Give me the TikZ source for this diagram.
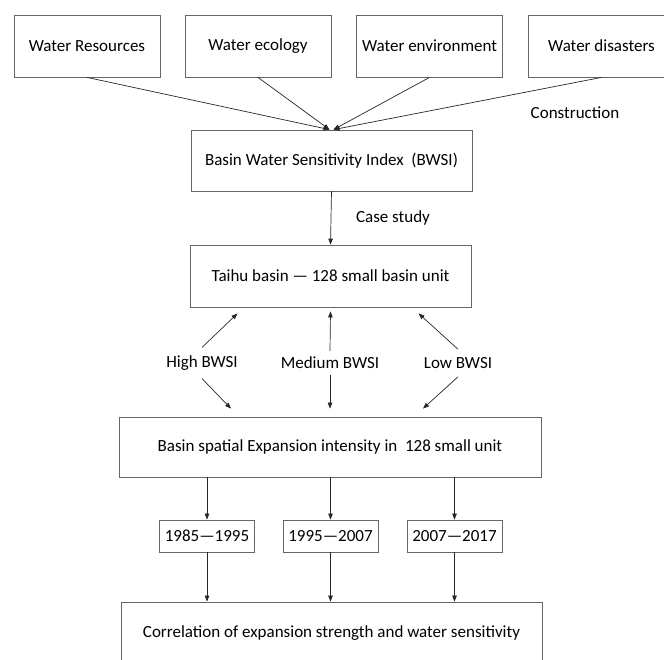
\documentclass[tikz,border=0pt]{standalone}
\usepackage{fontspec}
\setmainfont{Carlito}
\usetikzlibrary{arrows.meta,positioning}

\begin{document}
\begin{tikzpicture}[
  x=1pt,y=-1pt,
  font=\fontsize{17}{20}\selectfont,
  box/.style={draw=black!60,line width=0.8pt,minimum height=62pt,inner sep=0pt,align=center},
  topbox/.style={box,minimum width=146pt},
  yearbox/.style={box,minimum width=95pt,minimum height=32pt},
  lab/.style={inner sep=0pt},
  arrow/.style={-{Triangle[length=6pt,width=4.5pt]},draw=black!85,line width=0.7pt}
]
\useasboundingbox (0,0) rectangle (664,659);
% indicator boxes
\node[topbox] (res) at (87,46) {Water Resources};
\node[topbox] (eco) at (258,46) {Water ecology};
\node[topbox] (env) at (429.5,46) {Water environment};
\node[topbox] (dis) at (601.5,46) {Water disasters};
\node[lab] (constr) at (575,113) {Construction};
\node[box,minimum width=281pt,minimum height=61pt] (bwsi) at (331.5,160.5) {Basin Water Sensitivity Index~ (BWSI)};
\node[lab] (case) at (393,218) {Case study};
\node[box,minimum width=281pt] (taihu) at (330.5,276) {Taihu basin — 128 small basin unit};
\node[lab] (high) at (202,363) {High BWSI};
\node[lab] (med) at (330,363) {Medium BWSI};
\node[lab] (low) at (458,363) {Low BWSI};
\node[box,minimum width=422pt,minimum height=60pt] (basin) at (330,447) {Basin spatial Expansion intensity in~ 128 small unit};
% periods
\node[yearbox] (p1) at (207,536) {1985—1995};
\node[yearbox] (p2) at (330.5,536) {1995—2007};
\node[yearbox] (p3) at (454.5,536) {2007—2017};
\node[box,minimum width=421pt] (corr) at (331.5,633) {Correlation of expansion strength and water sensitivity};

\draw[arrow] (res.south) -- ([xshift=-2pt]bwsi.north);
\draw[arrow] (eco.south) -- ([xshift=-2pt]bwsi.north);
\draw[arrow] (env.south) -- ([xshift=2pt]bwsi.north);
\draw[arrow] (dis.south) -- ([xshift=2pt]bwsi.north);
\draw[arrow] (bwsi.south) -- (taihu.north);
% BWSI classes
\draw[arrow] ([yshift=8pt]high.north) -- ([xshift=-93pt,yshift=-6pt]taihu.south);
\draw[arrow] ([yshift=6pt]med.north) -- ([yshift=-4pt]taihu.south);
\draw[arrow] ([yshift=8pt]low.north) -- ([xshift=88pt,yshift=-6pt]taihu.south);
\draw[arrow] ([yshift=-8pt]high.south) -- ([xshift=-99pt,yshift=8pt]basin.north);
\draw[arrow] ([yshift=-6pt]med.south) -- ([yshift=8pt]basin.north);
\draw[arrow] ([yshift=-8pt]low.south) -- ([xshift=93pt,yshift=8pt]basin.north);
\foreach \p in {p1,p2,p3}{
  \draw[arrow] (basin.south -| \p.north) -- (\p.north);
  \draw[arrow] (\p.south) -- (corr.north -| \p.south);
}
\end{tikzpicture}
\end{document}
